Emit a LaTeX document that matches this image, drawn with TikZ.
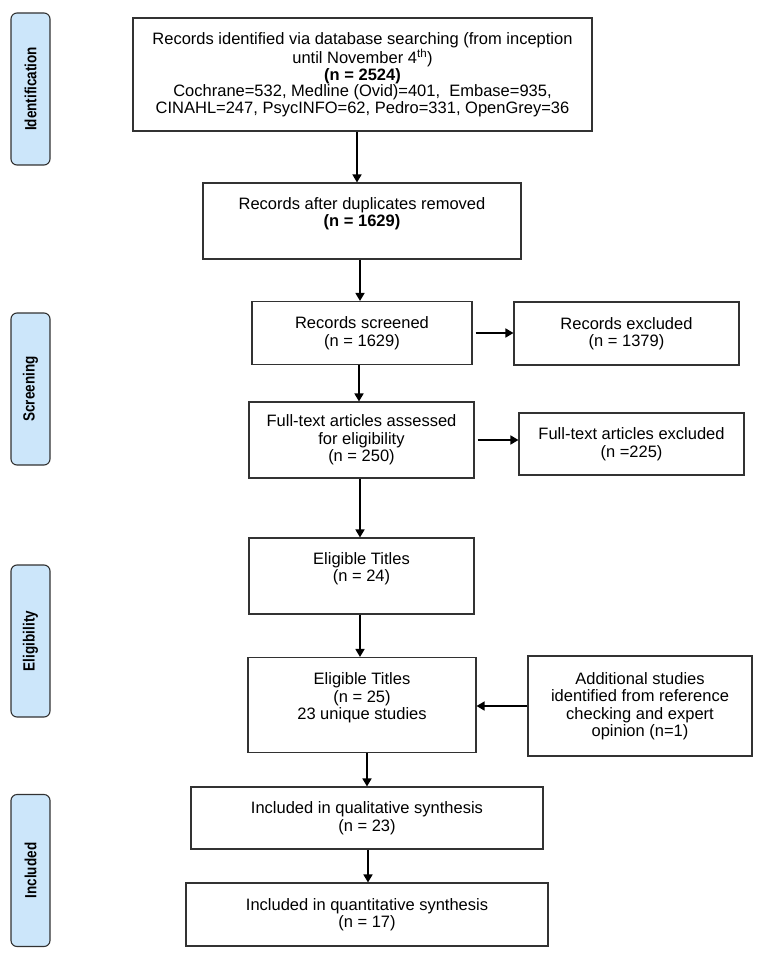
\documentclass[tikz,border=0pt]{standalone}
\usepackage{fontspec}
\setmainfont{Liberation Sans}
\usetikzlibrary{arrows.meta}
\definecolor{stagefill}{RGB}{204,230,250}
\definecolor{boxline}{RGB}{50,50,50}
\tikzset{
  box/.style={draw=boxline, line width=1.1pt, align=center, inner sep=0pt,
    font=\fontsize{16.5}{17.5}\selectfont},
  stage/.style={draw=boxline, fill=stagefill, rounded corners=6pt, line width=1.1pt,
    minimum width=152pt, minimum height=39pt, rotate=90,
    font=\fontsize{13.5}{14}\selectfont\bfseries},
  arr/.style={line width=1.6pt, -{Triangle[length=8pt,width=9pt]}},
}
\newcommand{\stagetext}[1]{\scalebox{1}[1.2]{#1}}

\begin{document}
\begin{tikzpicture}[x=1pt,y=-1pt]
                \useasboundingbox (0,0) rectangle (761,960);
                \node[stage] (ident) at (30.5,89) {\stagetext{Identification}};
                \node[stage] (scr) at (30.5,389) {\stagetext{Screening}};
                \node[stage] (elg) at (30.5,641) {\stagetext{Eligibility}};
                \node[stage] (inc) at (30.5,870.5) {\stagetext{Included}};
                \node[box, minimum width=459pt, minimum height=113pt, font=\fontsize{16.5}{16.5}\selectfont] (search) at (362.5,74.5)
                    {Records identified via database searching (from inception\\
                     until November 4\textsuperscript{th})\\
                     \textbf{(n = 2524)}\\
                     Cochrane=532, Medline (Ovid)=401,\ \ Embase=935,\\
                     CINAHL=247, PsycINFO=62, Pedro=331, OpenGrey=36};
                \node[box, minimum width=318pt, minimum height=76pt] (dedup) at (362,221)
                    {Records after duplicates removed\\ \textbf{(n = 1629)}\\ \mbox{}};
                \node[box, minimum width=220pt, minimum height=63pt] (screen) at (362,333)
                    {Records screened\\ (n = 1629)};
                \node[box, minimum width=225pt, minimum height=63pt] (excl) at (626.5,333.5)
                    {Records excluded\\ (n = 1379)};
                \node[box, minimum width=225pt, minimum height=76pt] (fulltext) at (361.5,440)
                    {Full-text articles assessed\\ for eligibility\\ (n = 250)};
                \node[box, minimum width=225pt, minimum height=62pt] (ftexcl) at (631.5,444)
                    {Full-text articles excluded\\ (n =225)};
                \node[box, minimum width=225pt, minimum height=76pt] (elig) at (361.5,576)
                    {Eligible Titles\\ (n = 24)\\ \mbox{}};
                \node[box, minimum width=228pt, minimum height=95pt] (final) at (362,705)
                    {Eligible Titles\\ (n = 25)\\ 23 unique studies\\ \mbox{}};
                \node[box, minimum width=224pt, minimum height=100pt] (extra) at (640,706)
                    {Additional studies\\ identified from reference\\ checking and expert\\ opinion (n=1)};
                \node[box, minimum width=352pt, minimum height=62pt] (qual) at (367,818)
                    {Included in qualitative synthesis\\ (n = 23)};
                \node[box, minimum width=362pt, minimum height=63pt] (quant) at (367,914.5)
                    {Included in quantitative synthesis\\ (n = 17)};
                \foreach \a/\b/\s in {search/dedup/-5.5, dedup/screen/-2, screen/fulltext/-3,
                    fulltext/elig/-1.5, elig/final/-1.5, final/qual/5, qual/quant/1}{
                    \draw[arr] (\a.south) ++(\s,0) coordinate (p) -- (p |- \b.north);
                }
                \draw[arr, shorten <=3pt] (screen.east) -- (screen.east -| excl.west);
                \draw[arr, shorten <=3pt] (fulltext.east) -- (fulltext.east -| ftexcl.west);
                \draw[arr] (extra.west) -- (extra.west -| final.east);
            \end{tikzpicture}
\end{document}
